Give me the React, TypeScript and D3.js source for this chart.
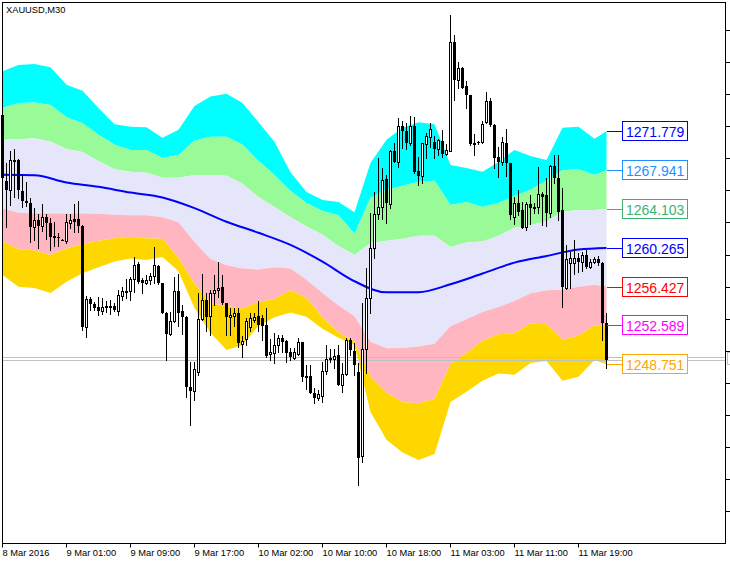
import React from "react"
import * as d3 from "d3"

// XAUUSD M30 candles, one entry per bar
const opens = [1273.38,1266.89,1265.94,1268.94,1268.94,1265.89,1264.89,1264.74,1262.30,1262.99,1262.45,1263.29,1262.69,1261.40,1261.30,1261.05,1260.95,1262.72,1263.09,1263.09,1262.45,1252.42,1255.21,1254.71,1254.46,1254.06,1254.38,1254.51,1254.56,1254.06,1255.51,1255.86,1255.96,1257.21,1258.70,1257.06,1256.76,1257.11,1257.46,1258.45,1256.76,1253.84,1251.74,1253.01,1256.01,1254.01,1253.44,1246.50,1246.16,1248.00,1253.18,1255.11,1253.51,1255.78,1256.11,1256.38,1254.78,1253.38,1253.51,1253.78,1250.74,1251.24,1252.44,1253.11,1253.51,1253.28,1252.61,1249.74,1249.90,1250.67,1251.34,1251.07,1249.94,1249.40,1249.77,1250.94,1247.46,1247.56,1245.90,1245.40,1245.66,1248.07,1249.24,1249.30,1249.67,1246.73,1247.84,1251.17,1250.10,1248.00,1239.69,1250.27,1255.28,1260.22,1263.56,1264.26,1267.09,1264.59,1269.84,1268.77,1272.28,1271.77,1270.61,1272.28,1267.84,1267.32,1270.51,1271.21,1270.77,1270.04,1270.84,1269.54,1269.87,1280.59,1276.88,1278.05,1276.28,1275.38,1270.54,1270.77,1270.69,1272.68,1274.78,1272.44,1269.21,1268.77,1270.61,1268.61,1263.32,1264.66,1263.99,1262.28,1264.59,1264.16,1264.26,1265.56,1265.49,1263.72,1268.34,1267.16,1263.99,1256.28,1258.78,1258.72,1259.28,1258.88,1259.55,1258.38,1258.88,1259.12,1258.72,1252.88]
const highs = [1273.68,1268.64,1269.79,1269.99,1269.04,1267.44,1266.79,1265.19,1264.19,1263.59,1264.59,1263.59,1263.19,1262.79,1261.75,1261.10,1263.59,1263.64,1264.64,1264.89,1262.55,1255.51,1255.41,1254.86,1255.41,1255.26,1254.96,1255.11,1254.81,1256.11,1256.41,1257.21,1257.41,1259.35,1258.90,1257.31,1257.55,1257.80,1260.30,1258.55,1256.81,1253.91,1253.96,1257.38,1257.72,1254.61,1253.51,1249.00,1249.00,1255.78,1257.72,1255.78,1256.11,1257.55,1258.88,1257.55,1254.81,1254.28,1254.28,1254.28,1251.50,1253.28,1253.78,1253.81,1255.01,1253.61,1254.28,1251.24,1251.84,1251.67,1251.67,1251.12,1250.34,1250.34,1251.34,1251.00,1248.67,1248.67,1246.40,1246.23,1249.00,1250.67,1250.24,1250.24,1250.67,1248.84,1251.34,1251.34,1250.84,1248.90,1254.78,1258.22,1263.66,1265.82,1269.11,1268.11,1267.44,1269.94,1270.61,1273.11,1272.78,1272.55,1273.28,1273.15,1269.27,1270.64,1271.61,1272.61,1271.27,1271.01,1271.94,1270.54,1283.32,1281.32,1278.65,1278.09,1276.71,1275.41,1271.51,1270.84,1272.81,1275.71,1275.08,1272.48,1270.27,1271.21,1272.05,1268.64,1265.32,1265.99,1264.82,1264.82,1265.49,1264.66,1268.21,1265.82,1267.16,1268.44,1269.44,1269.44,1266.16,1260.55,1259.88,1261.05,1259.72,1259.88,1260.05,1259.12,1259.38,1259.45,1258.85,1253.78]
const lows = [1266.79,1262.35,1264.49,1265.29,1265.19,1264.29,1264.39,1260.80,1261.05,1260.25,1261.95,1261.15,1260.05,1260.45,1260.45,1261.00,1260.75,1262.25,1261.85,1261.85,1252.17,1251.42,1254.11,1254.11,1253.61,1253.76,1253.96,1253.71,1254.01,1253.61,1255.11,1255.31,1255.11,1255.91,1256.76,1255.81,1256.71,1256.71,1256.81,1256.71,1253.81,1249.17,1251.67,1252.91,1252.51,1251.74,1245.56,1242.79,1245.23,1247.67,1253.11,1252.00,1251.67,1254.61,1255.44,1254.76,1251.67,1251.67,1252.50,1250.50,1249.50,1250.67,1252.00,1252.91,1252.00,1251.17,1249.52,1249.17,1248.84,1250.00,1250.00,1249.00,1249.17,1249.27,1249.67,1247.06,1246.30,1245.90,1244.90,1245.23,1245.06,1247.84,1249.00,1248.34,1246.68,1246.06,1247.67,1249.67,1247.67,1236.85,1239.09,1247.90,1253.84,1259.22,1263.16,1263.16,1262.72,1264.16,1268.74,1268.27,1270.11,1270.01,1270.44,1267.61,1266.49,1266.66,1269.11,1270.27,1269.11,1269.44,1269.27,1269.44,1269.84,1274.88,1276.05,1276.01,1274.05,1270.44,1269.44,1270.54,1270.64,1272.58,1272.34,1268.11,1267.26,1268.44,1267.32,1263.16,1262.66,1263.49,1262.20,1262.05,1262.66,1263.66,1263.66,1262.49,1262.38,1263.32,1266.66,1263.06,1254.44,1256.21,1256.28,1257.72,1257.88,1257.98,1258.22,1258.22,1258.72,1258.55,1251.17,1248.34]
const closes = [1267.19,1265.99,1268.99,1268.79,1265.99,1264.89,1264.69,1262.30,1262.99,1262.45,1263.29,1262.69,1261.35,1261.25,1261.20,1261.04,1262.84,1262.99,1262.84,1262.40,1252.42,1255.21,1254.76,1254.36,1254.06,1254.46,1254.51,1254.36,1254.16,1255.61,1255.96,1256.01,1257.21,1258.55,1256.86,1256.76,1257.11,1257.46,1258.55,1256.76,1253.86,1251.74,1253.01,1256.01,1253.78,1253.38,1246.50,1246.16,1248.24,1253.18,1255.11,1253.44,1255.78,1256.11,1256.34,1254.78,1253.38,1253.61,1253.78,1250.84,1251.10,1253.04,1253.28,1253.38,1252.61,1252.51,1249.57,1249.94,1250.67,1251.34,1251.00,1249.90,1249.50,1250.00,1250.94,1247.46,1247.56,1245.96,1245.40,1245.83,1248.07,1249.24,1249.40,1249.57,1246.73,1247.84,1251.17,1250.17,1248.67,1239.46,1250.27,1255.28,1260.22,1263.56,1264.32,1266.99,1264.66,1269.84,1268.77,1272.28,1271.77,1270.61,1272.28,1267.77,1267.32,1270.61,1271.27,1272.01,1270.04,1270.94,1269.54,1269.94,1280.59,1276.88,1277.99,1276.05,1275.38,1270.54,1270.67,1270.61,1272.48,1274.73,1272.38,1269.11,1268.77,1270.71,1268.61,1263.49,1264.66,1263.82,1262.22,1264.56,1264.16,1264.26,1265.56,1265.32,1263.72,1268.34,1267.16,1263.82,1256.44,1259.12,1259.22,1259.28,1258.88,1259.55,1258.38,1258.88,1259.12,1258.72,1252.84,1249.15]

// moving average (blue line), sampled every 8 bars
const maBars = [0,8,16,24,32,40,48,56,64,72,80,88,96,104,112,120,128,136,144,151]
const maValues = [1267.49,1267.44,1266.72,1266.29,1265.72,1265.24,1264.19,1262.84,1261.75,1260.55,1258.90,1256.96,1255.86,1255.88,1256.66,1257.72,1258.80,1259.45,1260.10,1260.25]

// channel levels, sampled every 4 bars
const bandBars = [0,4,8,12,16,20,24,28,32,36,40,44,48,52,56,60,64,68,72,76,80,84,88,92,96,100,104,108,112,116,120,124,128,132,136,140,144,148,151]
const upper3 = [1277.72,1278.32,1278.42,1278.12,1276.38,1275.78,1274.08,1272.48,1272.24,1272.19,1271.14,1271.94,1274.28,1275.23,1275.48,1274.58,1272.68,1270.74,1267.74,1265.79,1264.99,1264.79,1263.79,1268.64,1270.94,1272.14,1272.68,1272.48,1268.44,1268.14,1267.79,1268.74,1269.94,1269.34,1268.94,1272.14,1272.24,1271.04,1271.779]
const upper2 = [1274.08,1274.58,1274.63,1274.38,1273.18,1272.58,1271.44,1270.44,1269.94,1269.94,1269.14,1269.44,1270.84,1271.24,1271.24,1270.44,1268.84,1267.46,1265.89,1264.69,1263.89,1263.49,1261.65,1265.19,1265.99,1266.39,1266.79,1266.89,1264.49,1264.79,1264.29,1264.69,1265.39,1265.99,1266.89,1267.94,1268.04,1267.46,1267.941]
const upper1 = [1270.94,1270.99,1271.09,1270.77,1270.04,1269.74,1268.84,1268.04,1267.79,1267.69,1267.19,1267.19,1267.46,1267.46,1267.39,1266.59,1265.29,1264.29,1263.29,1262.40,1261.55,1260.45,1259.55,1260.75,1260.95,1261.15,1261.45,1261.45,1260.35,1260.80,1260.88,1261.45,1262.25,1262.52,1262.89,1263.84,1263.99,1263.99,1264.103]
const lower1 = [1264.16,1263.74,1263.66,1263.66,1263.66,1263.66,1263.64,1263.54,1263.49,1263.49,1263.29,1262.79,1260.85,1259.15,1258.55,1258.22,1258.12,1258.35,1258.22,1257.11,1255.81,1254.56,1253.51,1250.97,1250.34,1250.37,1250.52,1250.77,1252.52,1253.21,1253.91,1254.41,1255.01,1255.78,1256.06,1256.11,1256.41,1256.61,1256.427]
const lower2 = [1260.88,1260.15,1260.00,1259.55,1260.20,1260.65,1260.95,1261.20,1261.35,1261.22,1261.15,1259.25,1256.71,1254.81,1254.51,1254.26,1254.91,1255.21,1256.06,1255.31,1253.41,1251.92,1250.97,1247.53,1245.93,1245.03,1244.90,1245.33,1248.77,1249.87,1251.07,1251.72,1251.84,1252.78,1252.71,1251.17,1251.57,1252.61,1252.589]
const lower3 = [1257.58,1256.41,1256.28,1255.81,1256.91,1257.75,1258.35,1258.90,1259.20,1259.05,1259.35,1257.95,1254.31,1251.87,1250.17,1250.67,1252.57,1253.41,1253.86,1253.46,1252.27,1251.37,1250.67,1244.03,1241.29,1240.04,1239.29,1239.89,1245.03,1246.03,1247.13,1247.83,1247.73,1248.87,1249.07,1247.13,1247.53,1249.17,1248.751]

const levelLabels = ["1271.779","1267.941","1264.103","1260.265","1256.427","1252.589","1248.751"]
const levelColors = ["#0000ff","#1e90ff","#3cb371","#0000ff","#ff0000","#ff00ff","#ffa500"]

const bidPrice = 1249.15
const askPrice = 1249.50

const timeLabelBars = [0,16,32,48,64,80,96,112,128,144]
const timeLabels = ["8 Mar 2016","9 Mar 01:00","9 Mar 09:00","9 Mar 17:00","10 Mar 02:00","10 Mar 10:00","10 Mar 18:00","11 Mar 03:00","11 Mar 11:00","11 Mar 19:00"]

const priceTicks = [1281.79,1278.62,1275.45,1272.28,1269.11,1265.94,1262.77,1259.60,1256.43,1253.26,1250.09,1246.92,1243.76,1240.59,1237.42,1234.25]

const W = 730
const H = 563
const frame = { left: 2.5, top: 2.5, right: 725.5, bottom: 543.5 }

const App: React.FunctionComponent = () => {
	const x = d3.scaleLinear().domain([0, opens.length - 1]).range([2.5, 606.5])
	const y = d3.scaleLinear().domain([1248.751, 1271.779]).range([364.3, 131.3])

	const bounds = [upper3, upper2, upper1, lower1, lower2, lower3]
	const fills = ["#00ffff", "#98fb98", "#e6e6fa", "#ffb6c1", "#ffd700"]

	const bandArea = (top: number[], bottom: number[]) =>
		d3
			.area<number>()
			.x((b) => x(b))
			.y0((b, i) => y(bottom[i]))
			.y1((b, i) => y(top[i]))(bandBars)

	const maLine = d3
		.line<number>()
		.x((b) => x(b))
		.y((b, i) => y(maValues[i]))
		.curve(d3.curveMonotoneX)(maBars)

	const px = (v: number) => Math.round(y(v))

	return (
		<svg
			width={W}
			height={H}
			style={{ position: "absolute", left: 0, top: 0, background: "#fff" }}
			fontFamily="'Liberation Sans', Arial, sans-serif"
		>
			<rect x={0} y={0} width={W} height={H} fill="#fff" />

			<g>
				{fills.map((c, k) => (
					<path key={c} d={bandArea(bounds[k], bounds[k + 1]) || ""} fill={c} />
				))}
			</g>

			{[askPrice, bidPrice].map((p) => (
				<line key={p} x1={2} x2={726} y1={px(p) + 0.5} y2={px(p) + 0.5} stroke="#c0c0c0" />
			))}
			<rect x={727.5} y={px(bidPrice) - 7.5} width={10} height={12} fill="#fff" stroke="#c0c0c0" />

			<path d={maLine || ""} fill="none" stroke="#0000ff" strokeWidth={2} />

			<g>
				{opens.map((o, i) => {
					const c = closes[i]
					const cx = Math.round(x(i) - 0.5) + 0.5
					const yh = px(highs[i])
					const yl = px(lows[i])
					const bull = c > o
					const top = px(Math.max(o, c))
					const bot = px(Math.min(o, c))
					return (
						<g key={i}>
							<line x1={cx} x2={cx} y1={yh} y2={yl + 1} stroke="#000" />
							{bull ? (
								<rect x={cx - 1} y={top + 0.5} width={2} height={Math.max(bot - top, 1)} fill="#fff" stroke="#000" />
							) : (
								<rect x={cx - 1.5} y={top} width={3} height={Math.max(bot - top, 1)} fill="#000" />
							)}
						</g>
					)
				})}
			</g>

			<g>
				{levelLabels.map((t, k) => {
					const ly = px(parseFloat(t)) + 0.5
					const col = levelColors[k]
					return (
						<g key={t}>
							<line x1={607} x2={622} y1={ly} y2={ly} stroke={col} />
							<rect x={622.5} y={ly - 10} width={65} height={19} fill="#fff" stroke={col} />
							<text x={626} y={ly + 5.5} fontSize={14} fill={col}>
								{t}
							</text>
						</g>
					)
				})}
			</g>

			<rect
				x={frame.left}
				y={frame.top}
				width={frame.right - frame.left}
				height={frame.bottom - frame.top}
				fill="none"
				stroke="#000"
			/>

			{priceTicks.map((p) => (
				<line key={p} x1={726} x2={730} y1={px(p) + 0.5} y2={px(p) + 0.5} stroke="#000" />
			))}

			{timeLabelBars.map((b, k) => {
				const tx = Math.round(x(b) - 0.5) + 0.5
				return (
					<g key={b}>
						<line x1={tx} x2={tx} y1={frame.bottom} y2={frame.bottom + 4} stroke="#000" />
						<text x={tx} y={556} fontSize={9.3} fill="#000">
							{timeLabels[k]}
						</text>
					</g>
				)
			})}

			<text x={6} y={12.5} fontSize={9.3} fill="#000">
				XAUUSD,M30
			</text>
		</svg>
	)
}

export default App
